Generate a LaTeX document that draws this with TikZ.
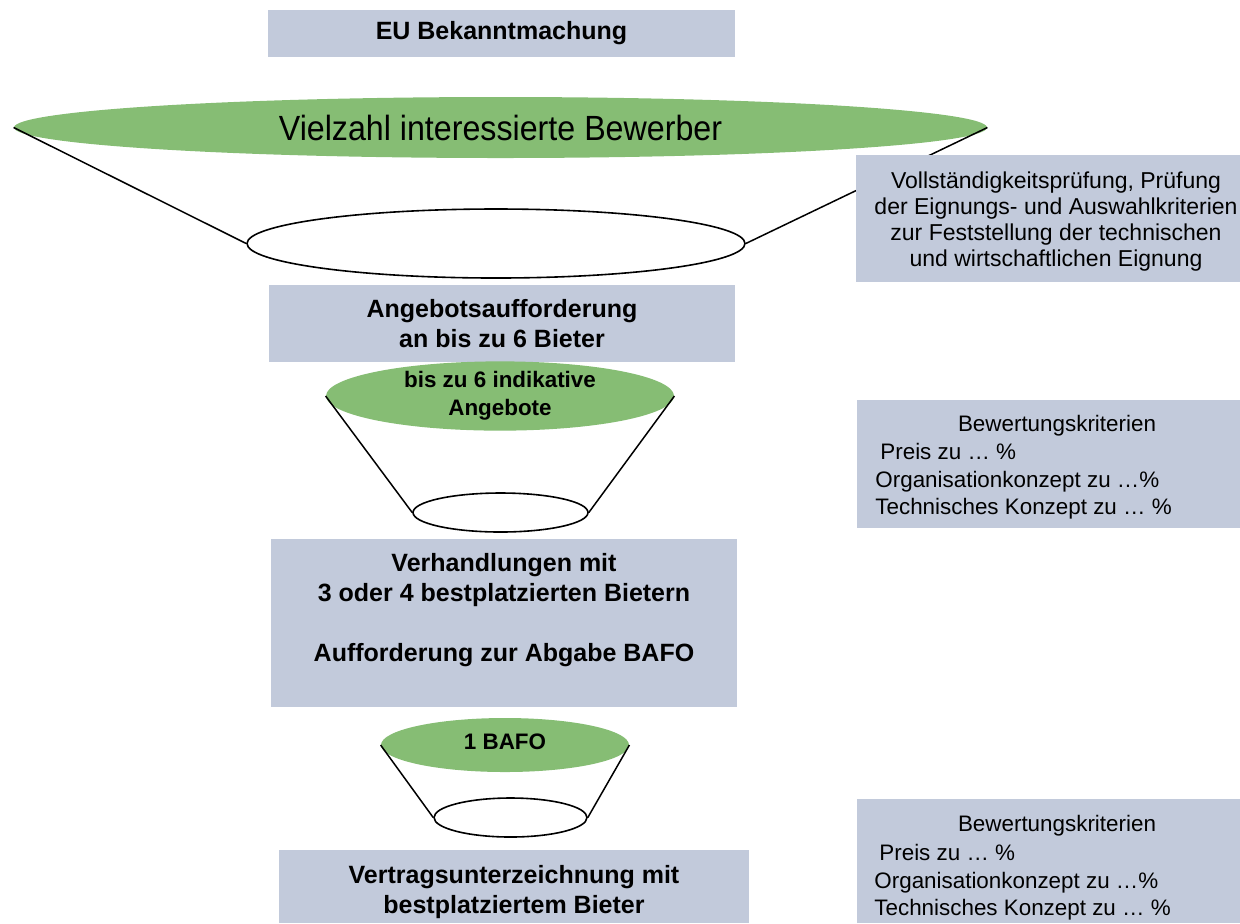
\documentclass[tikz,border=0pt]{standalone}
\usepackage{fontspec}
\setmainfont{Liberation Sans}
\usetikzlibrary{shapes.geometric}
\definecolor{boxblue}{HTML}{C2CADB}
\definecolor{fungreen}{HTML}{86BD74}
\tikzset{
  box/.style={rectangle, fill=boxblue, draw=none, inner sep=0pt, align=center},
  topell/.style={ellipse, fill=fungreen, draw=none, inner sep=0pt, align=center},
  botell/.style={ellipse, fill=white, draw=black, line width=0.8pt, inner sep=0pt},
  funnel/.style={draw=black, line width=0.75pt},
  boldtxt/.style={font=\fontsize{12.5}{15}\selectfont\bfseries, align=center, inner sep=0pt},
  smalltxt/.style={font=\fontsize{11.2}{14}\selectfont, inner sep=0pt},
}
\begin{document}
\begin{tikzpicture}[x=0.5pt,y=-0.5pt]
\useasboundingbox (0,0) rectangle (1240,923);
% top box
\node[box, minimum width=233.5pt, minimum height=23.5pt, boldtxt] (eu) at (501.5,33.5) {EU Bekanntmachung};
% funnel 1
\node[topell, minimum width=486.5pt, minimum height=30.5pt, font=\fontsize{17.5}{20}\selectfont] (e1) at (500.5,127.5) {\scalebox{0.92}[1]{Vielzahl interessierte Bewerber}};
\node[botell, minimum width=249pt, minimum height=34.5pt] (s1) at (496,243.5) {};
\draw[funnel] (e1.west) -- (s1.west);
\draw[funnel] (e1.east) -- (s1.east);
% right box 1
\node[box, minimum width=192pt, minimum height=63.5pt] (r1) at (1048,218.5) {};
\node[font=\fontsize{11.5}{13}\selectfont, align=center, inner sep=0pt] (r1t) at (1056,222) {Vollständigkeitsprüfung, Prüfung\\der Eignungs- und Auswahlkriterien\\zur Feststellung der technischen\\und wirtschaftlichen Eignung};
% box 2
\node[box, minimum width=233pt, minimum height=38.5pt, boldtxt] (ang) at (502,323.5) {Angebotsaufforderung\\an bis zu 6 Bieter};
% funnel 2
\node[topell, minimum width=174pt, minimum height=30pt, font=\fontsize{11.2}{14}\selectfont\bfseries] (e2) at (500,396) {bis zu 6 indikative\\Angebote};
\node[botell, minimum width=87.5pt, minimum height=19.5pt] (s2) at (500.5,512.5) {};
\draw[funnel] (e2.west) -- (s2.west);
\draw[funnel] (e2.east) -- (s2.east);
% right box 2
\node[box, minimum width=191.5pt, minimum height=64pt] (r2) at (1048.5,464) {};
\node[smalltxt, anchor=base] (r2a) at (1057,431) {Bewertungskriterien};
\node[smalltxt, anchor=base west] (r2b) at (880,459) {Preis zu … \%};
\node[smalltxt, anchor=base west] (r2c) at (875,487) {Organisationkonzept zu …\%};
\node[smalltxt, anchor=base west] (r2d) at (875,514) {Technisches Konzept zu … \%};
% box 3
\node[box, minimum width=233pt, minimum height=84pt] (ver) at (504,623) {};
\node[boldtxt] (vert) at (504,610) {Verhandlungen mit\\3 oder 4 bestplatzierten Bietern\\[15pt]Aufforderung zur Abgabe BAFO};
% funnel 3
\node[topell, minimum width=124pt, minimum height=27pt, font=\fontsize{11.2}{14}\selectfont\bfseries] (e3) at (505,745) {\raisebox{3pt}{1 BAFO}};
\node[botell, minimum width=76.5pt, minimum height=19.5pt] (s3) at (510.5,817.5) {};
\draw[funnel] (e3.west) -- (s3.west);
\draw[funnel] (e3.east) -- (s3.east);
% bottom box
\node[box, minimum width=235pt, minimum height=36.5pt] (vtr) at (514,886.5) {};
\node[boldtxt] (vtrt) at (514,892) {Vertragsunterzeichnung mit\\bestplatziertem Bieter};
% right box 3
\node[box, minimum width=191.5pt, minimum height=62pt] (r3) at (1048.5,861) {};
\node[smalltxt, anchor=base] (r3a) at (1057,831) {Bewertungskriterien};
\node[smalltxt, anchor=base west] (r3b) at (879,860) {Preis zu … \%};
\node[smalltxt, anchor=base west] (r3c) at (874,888) {Organisationkonzept zu …\%};
\node[smalltxt, anchor=base west] (r3d) at (874,915) {Technisches Konzept zu … \%};
\end{tikzpicture}
\end{document}
